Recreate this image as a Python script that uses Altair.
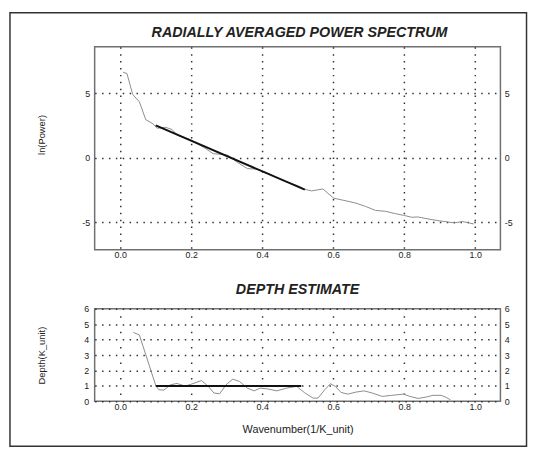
import altair as alt
import pandas as pd

# ---- data ----
ps_x = [0.008, 0.019, 0.035, 0.054, 0.072, 0.093, 0.104, 0.128, 0.146, 0.160,
        0.201, 0.238, 0.262, 0.285, 0.303, 0.331, 0.358, 0.386, 0.410, 0.440,
        0.470, 0.500, 0.520, 0.539, 0.571, 0.601, 0.636, 0.664, 0.691, 0.719,
        0.747, 0.775, 0.798, 0.821, 0.839, 0.867, 0.895, 0.922, 0.941, 0.964, 0.996]
ps_y = [6.64, 6.53, 4.92, 4.34, 2.96, 2.63, 2.30, 2.37, 2.20, 1.78,
        1.36, 0.77, 0.33, 0.28, 0.21, -0.36, -0.82, -0.87, -1.10, -1.50,
        -1.85, -2.15, -2.43, -2.55, -2.40, -3.11, -3.32, -3.50, -3.75, -4.06,
        -4.13, -4.31, -4.44, -4.59, -4.57, -4.72, -4.85, -4.95, -5.03, -4.92, -5.11]
fit_x = [0.10, 0.52]
fit_y = [2.52, -2.45]

dep_x = [0.037, 0.054, 0.100, 0.109, 0.123, 0.141, 0.160, 0.183, 0.201, 0.229,
         0.248, 0.264, 0.280, 0.298, 0.317, 0.336, 0.358, 0.377, 0.395, 0.414,
         0.441, 0.469, 0.497, 0.520, 0.543, 0.557, 0.576, 0.592, 0.606, 0.622,
         0.641, 0.664, 0.687, 0.710, 0.738, 0.765, 0.798, 0.816, 0.839, 0.862,
         0.881, 0.904, 0.918, 0.930]
dep_y = [4.47, 4.30, 1.03, 0.75, 0.73, 1.07, 1.16, 0.99, 1.12, 1.35,
         0.97, 0.54, 0.49, 1.07, 1.44, 1.29, 0.86, 0.68, 0.86, 0.81,
         0.68, 0.86, 0.97, 0.55, 0.21, 0.21, 0.75, 1.14, 0.97, 0.58,
         0.47, 0.60, 0.68, 0.54, 0.32, 0.39, 0.47, 0.32, 0.19, 0.28,
         0.39, 0.39, 0.26, 0.10]
dfit_x = [0.10, 0.51]
dfit_y = [1.0, 1.0]

x_ticks = [0.0, 0.2, 0.4, 0.6, 0.8, 1.0]
ps_ticks = [-5, 0, 5]
dep_ticks = [0, 1, 2, 3, 4, 5, 6]

TITLE_TOP = "RADIALLY AVERAGED POWER SPECTRUM"
TITLE_BOTTOM = "DEPTH ESTIMATE"

FONT = "Liberation Sans"
W, H1, H2 = 412, 206, 94
GRID = "#333333"

ps = pd.DataFrame({"k": ps_x, "v": ps_y})
pfit = pd.DataFrame({"k": fit_x, "v": fit_y})
dep = pd.DataFrame({"k": dep_x, "d": dep_y})
dfit = pd.DataFrame({"k": dfit_x, "d": dfit_y})
one = pd.DataFrame({"a": [1]})

xscale = alt.Scale(domain=[-0.072, 1.071], nice=False, zero=False)

def xaxis(title=None, dash=(1.5, 5.5), offset=0):
    kw = dict(values=x_ticks, format=".1f", ticks=False, domain=False, grid=True,
              gridDash=list(dash), gridDashOffset=offset, gridColor=GRID, gridWidth=1.5,
              labelPadding=1, labelFontSize=9, labelFont=FONT, labelColor="#222")
    if title:
        return alt.Axis(title=title, titleFont=FONT, titleFontSize=11, titleFontWeight="normal",
                        titleColor="#222", titleY=29, titleBaseline="middle", **kw)
    return alt.Axis(title=None, **kw)

def yleft(vals, title, ty, pad):
    kw = dict(values=vals, labelExpr="'' + datum.value", ticks=False, domain=False,
              grid=True, gridDash=[1.5, 5.5], gridColor=GRID, gridWidth=1.5,
              labelPadding=pad, labelFontSize=9, labelFont=FONT, labelColor="#222",
              title=title, titleFont=FONT, titleFontSize=9.5, titleFontWeight="normal",
              titleColor="#222", titleX=-54, titleAngle=270, titleAlign="center",
              titleBaseline="middle")
    if ty is not None:
        kw["titleY"] = ty
    return alt.Axis(**kw)

def yright(vals):
    return alt.Axis(orient="right", values=vals, labelExpr="'' + datum.value", ticks=False,
                    domain=False, grid=False, labelPadding=4, labelFontSize=9,
                    labelFont=FONT, labelColor="#222", title=None)

# ---- top panel ----
yscale1 = alt.Scale(domain=[-7.1, 8.6], nice=False, zero=False)
ps_line = alt.Chart(ps).mark_line(color="#8c8c8c", strokeWidth=1).encode(
    x=alt.X("k:Q", scale=xscale, axis=xaxis()),
    y=alt.Y("v:Q", scale=yscale1, axis=yleft(ps_ticks, "ln(Power)", 89, 5)),
)
ps_fit = alt.Chart(pfit).mark_line(color="#111111", strokeWidth=2).encode(
    x=alt.X("k:Q", scale=xscale),
    y=alt.Y("v:Q", scale=yscale1, axis=yright(ps_ticks)),
)
frame = alt.Chart(one).mark_rect(filled=False, stroke="#333333", strokeWidth=1.5).encode(
    x=alt.value(-86), x2=alt.value(438.5), y=alt.value(-34.5), y2=alt.value(405.5)
)
title_top = alt.Chart(one).mark_text(
    font=FONT, fontSize=14.5, fontStyle="italic", fontWeight="bold", color="#222",
    align="center", baseline="alphabetic"
).encode(x=alt.value(W / 2 + 2), y=alt.value(-9.5), text=alt.value(TITLE_TOP))

top = alt.layer(ps_line, ps_fit, frame, title_top).resolve_axis(y="independent").properties(
    width=W, height=H1,
)

# ---- bottom panel ----
yscale2 = alt.Scale(domain=[0, 6], nice=False, zero=False)
dep_line = alt.Chart(dep).mark_line(color="#8c8c8c", strokeWidth=1).encode(
    x=alt.X("k:Q", scale=xscale,
            axis=xaxis("Wavenumber(1/K_unit)", dash=(1.5, 14.17), offset=8.6)),
    y=alt.Y("d:Q", scale=yscale2, axis=yleft(dep_ticks, "Depth(K_unit)", None, 6)),
)
dep_fit = alt.Chart(dfit).mark_line(color="#111111", strokeWidth=2).encode(
    x=alt.X("k:Q", scale=xscale),
    y=alt.Y("d:Q", scale=yscale2, axis=yright(dep_ticks)),
)
bottom = alt.layer(dep_line, dep_fit).resolve_axis(y="independent").properties(
    width=W, height=H2,
    title=alt.TitleParams(TITLE_BOTTOM, font=FONT, fontSize=14.5,
                          fontStyle="italic", fontWeight="bold", color="#222",
                          offset=8, anchor="middle", frame="group"),
)

chart = alt.vconcat(top, bottom, spacing=60, bounds="flush").properties(
    padding=0, background="white"
).configure_view(stroke="#707070", strokeWidth=1.5)

chart.save("out.html", embed_options={"renderer": "svg", "actions": False})
